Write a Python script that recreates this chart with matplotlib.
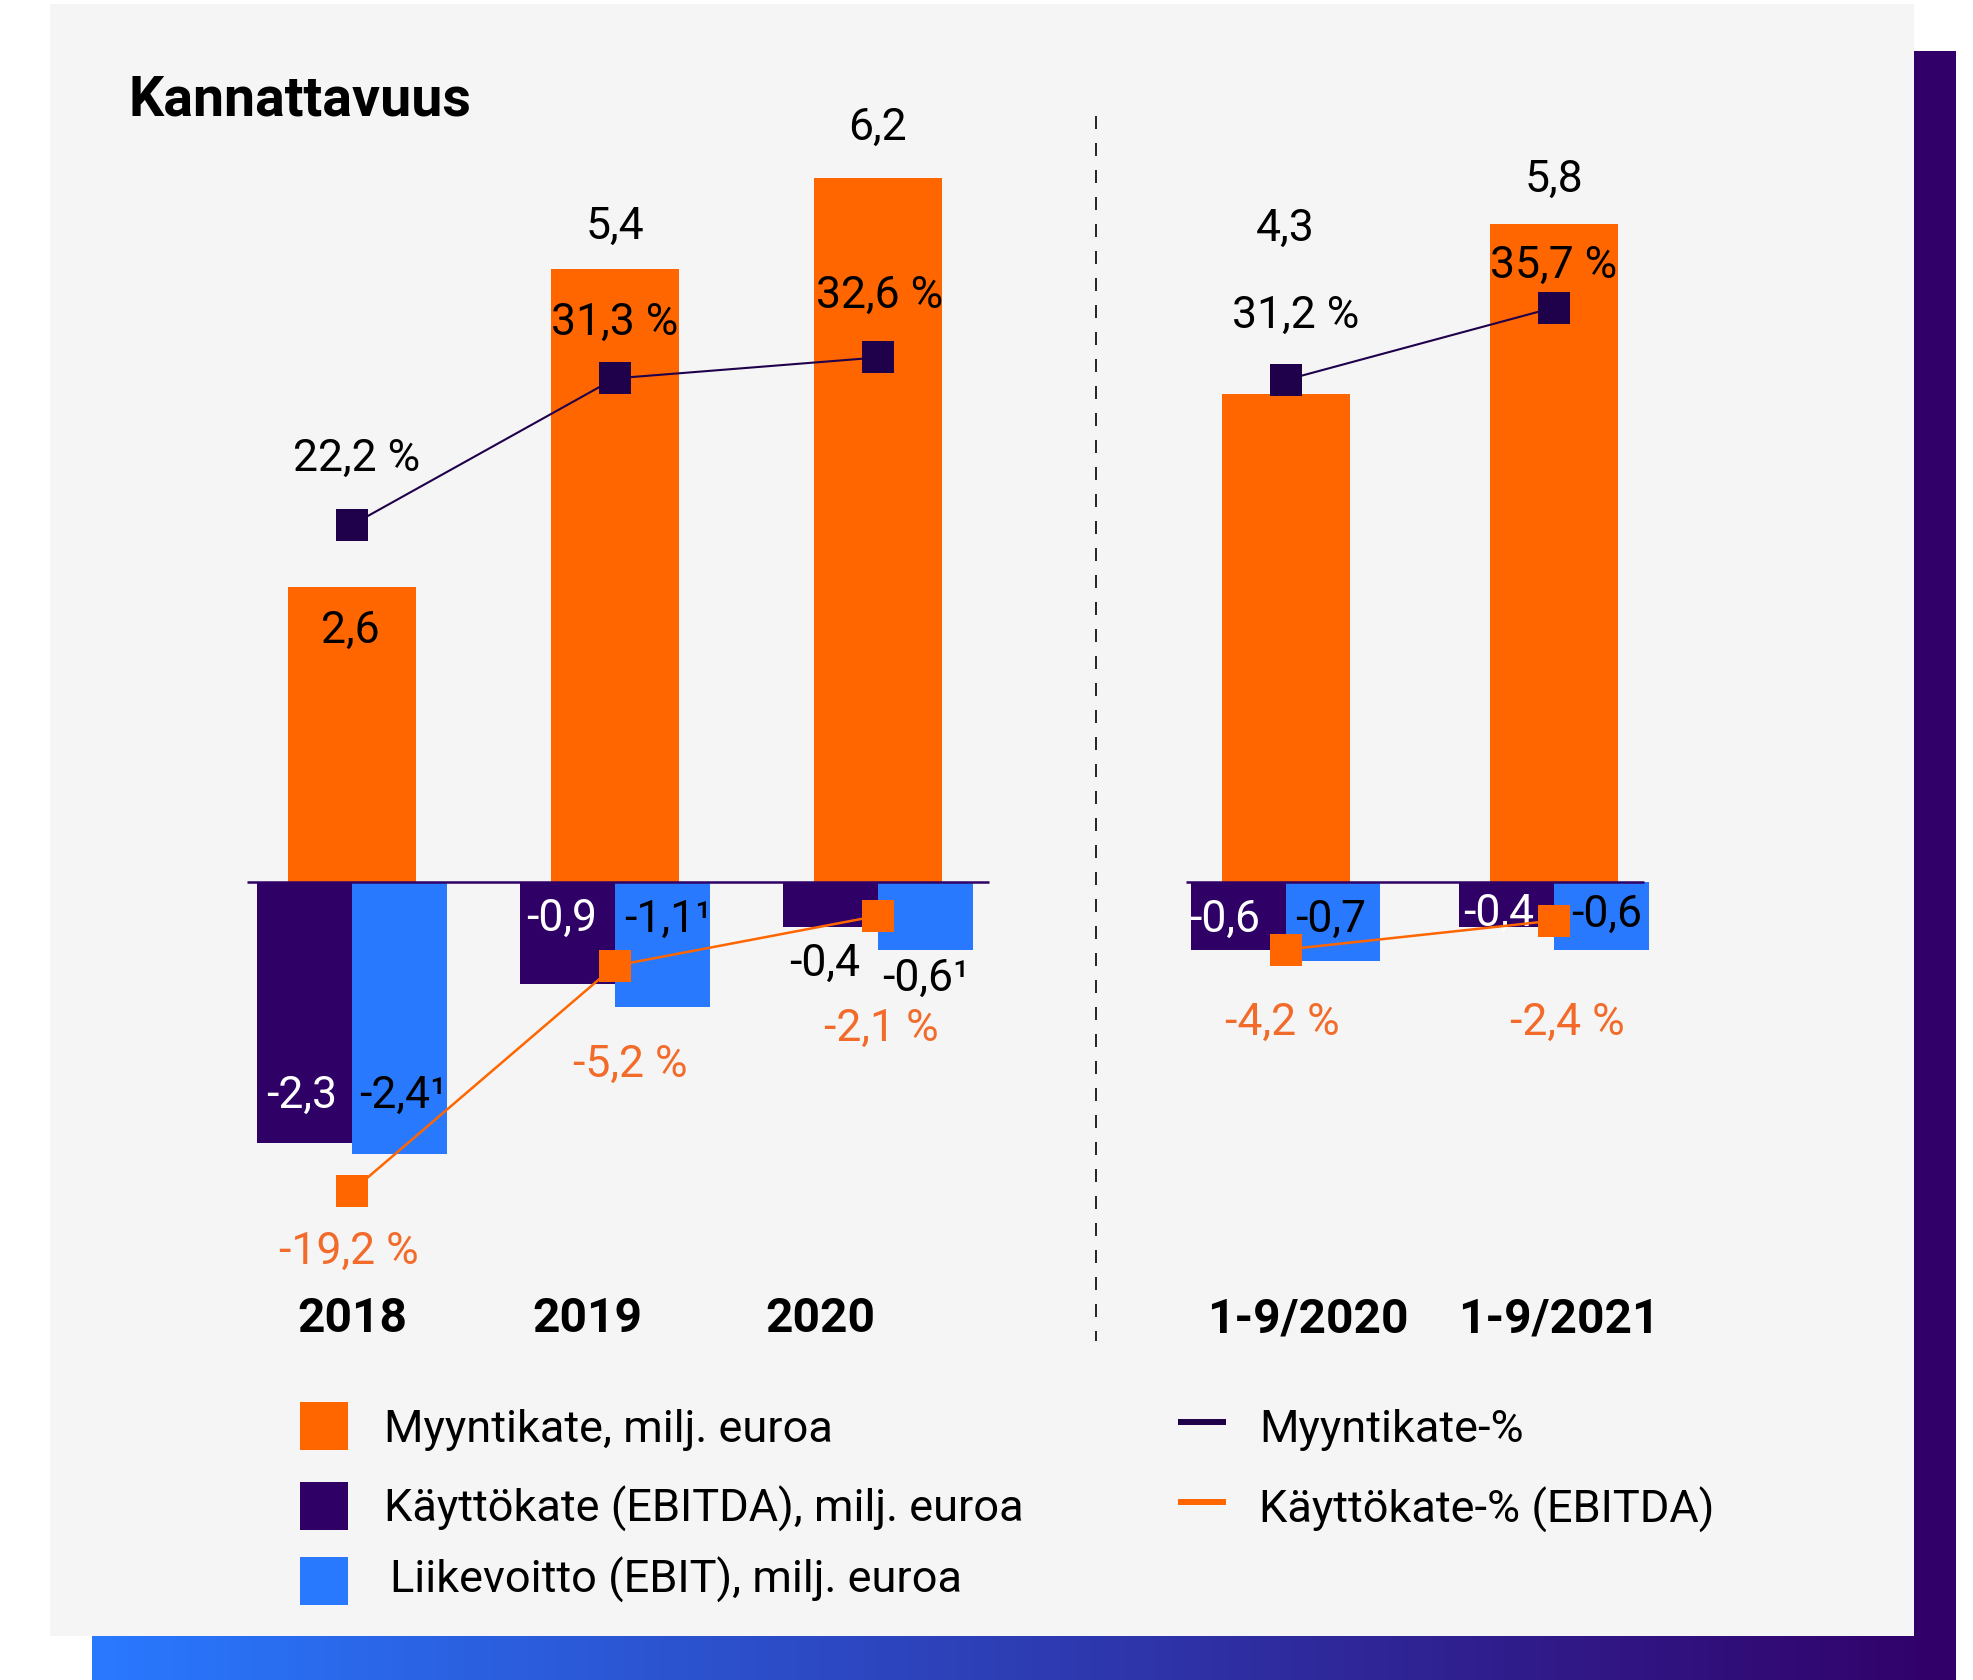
import numpy as np
import matplotlib.pyplot as plt
import matplotlib.transforms as mtransforms
from matplotlib.patches import Rectangle

plt.rcParams['font.family'] = ['Roboto', 'DejaVu Sans']

# data, milj. euroa and %
periods = ['2018', '2019', '2020', '1-9/2020', '1-9/2021']
myyntikate = [2.6, 5.4, 6.2, 4.3, 5.8]
kayttokate = [-2.3, -0.9, -0.4, -0.6, -0.4]
liikevoitto = [-2.4, -1.1, -0.6, -0.7, -0.6]
myyntikate_pct = [22.2, 31.3, 32.6, 31.2, 35.7]
kayttokate_pct = [-19.2, -5.2, -2.1, -4.2, -2.4]
footnote = ['\u00b9', '\u00b9', '\u00b9', '', '']

bar_names = ['Myyntikate, milj. euroa', 'Käyttökate (EBITDA), milj. euroa',
             'Liikevoitto (EBIT), milj. euroa']
line_names = ['Myyntikate-%', 'Käyttökate-% (EBITDA)']

ORANGE = '#ff6600'
PURPLE = '#2f0066'
BLUE = '#2979ff'
DARK = '#1f004b'
PCT_ORANGE = '#f26b2a'
GREY = '#f5f5f5'

xpos = np.array([0, 1, 2, 3.55, 4.57])
groups = [slice(0, 3), slice(3, 5)]

# label offsets in pixels (centre of text relative to anchor)
mk_off = [(-2, -40), (0, 46), (-1, 54), (0, 169), (0, 48)]
mkp_off = [(5, 70), (0, 60), (2, 66), (10, 68), (0, 46)]
kkp_off = [(-3, -57), (15, -95), (3, -109), (-3, -69), (13, -98)]
kk_off = [(-3, -210), (-6, -33), (-6, -78), (-14, -34), (-8, -28)]
kk_col = ['white', 'white', 'black', 'white', 'white']
lv_off = [(4, -210), (6, -34), (0, -93), (-2, -34), (5, -29)]
cat_dx = [0, -0.106, -0.22, 0.085, 0.02]


def fi(v, pct=False):
    s = f'{v:.1f}'.replace('.', ',')
    return s + ' %' if pct else s


W, H = 1973, 1680
fig = plt.figure(figsize=(W / 100, H / 100), dpi=100)
fig.patch.set_facecolor('white')

# background frame, pixel coordinates
bg = fig.add_axes([0, 0, 1, 1], zorder=0)
grad = np.linspace(0, 1, 256)
c0 = np.array([41, 121, 255]) / 255
c1 = np.array([50, 0, 104]) / 255
img = (c0[None, :] * (1 - grad[:, None]) + c1[None, :] * grad[:, None])[None, :, :]
bg.imshow(img, extent=[92, 1956, 1680, 1636], aspect='auto', zorder=1)
bg.add_patch(Rectangle((1914, 51), 42, 1629, color='#310069', lw=0, zorder=1))
bg.add_patch(Rectangle((50, 4), 1864, 1632, color=GREY, lw=0, zorder=2))
bg.set_xlim(0, W)
bg.set_ylim(H, 0)
bg.axis('off')

bg.text(128, 115, 'Kannattavuus', fontsize=40, fontweight='bold', va='baseline', zorder=3)
bg.plot([1096, 1096], [116, 1341], color='black', lw=1.2, dashes=(7.8, 8.4), zorder=3)

# legend
leg_y = [(1402, 1442, 384), (1482, 1522, 384), (1557, 1593, 390)]
for (top, base, tx), name, col in zip(leg_y, bar_names, [ORANGE, PURPLE, BLUE]):
    bg.add_patch(Rectangle((300, top), 48, 48, color=col, lw=0, zorder=3))
    bg.text(tx, base, name, fontsize=32.5, va='baseline', zorder=3)
for (ly, base), name, col in zip([(1422, 1442), (1502, 1523)], line_names, [DARK, ORANGE]):
    bg.plot([1178, 1226], [ly, ly], color=col, lw=4.3, solid_capstyle='butt', zorder=3)
    bg.text(1259, base, name, fontsize=32.5, va='baseline', zorder=3)

# chart
ax = fig.add_axes([0, 0, 1, 1], zorder=1)
ax.set_xlim(-352 / 263, (W - 352) / 263)
ylo, yhi = (882 - H) / 113.5, 882 / 113.5
ax.set_ylim(ylo, yhi)
ax.axis('off')

ax.bar(xpos, myyntikate, width=0.487, color=ORANGE, zorder=2)
ax.bar(xpos - 0.18, kayttokate, width=0.36, color=PURPLE, zorder=2)
ax.bar(xpos + 0.18, liikevoitto, width=0.36, color=BLUE, zorder=2)
ax.hlines(0, -0.399, 2.422, color=PURPLE, lw=1.8, zorder=3)
ax.hlines(0, 3.171, 4.913, color=PURPLE, lw=1.8, zorder=3)


def label(a, text, xy, off, color='black', size=32):
    a.annotate(text, xy=xy, xytext=(off[0], off[1] - 16), textcoords='offset pixels',
               ha='center', va='baseline', fontsize=size, color=color, zorder=6)


for i in range(5):
    label(ax, fi(myyntikate[i]), (xpos[i], myyntikate[i]), mk_off[i])
    label(ax, fi(kayttokate[i]), (xpos[i] - 0.18, 0), kk_off[i], kk_col[i])
    label(ax, fi(liikevoitto[i]) + footnote[i], (xpos[i] + 0.18, 0), lv_off[i])

cat_tr = mtransforms.blended_transform_factory(ax.transData, bg.transData)
for i, p in enumerate(periods):
    ax.text(xpos[i] + cat_dx[i], 1332, p, transform=cat_tr, fontsize=34.5,
            fontweight='bold', ha='center', va='baseline')

# percentage lines on their own scale
pct_per_unit = 7.054
ax2 = ax.twinx()
ax2.set_ylim(ylo * pct_per_unit, yhi * pct_per_unit)
ax2.axis('off')
for g in groups:
    ax2.plot(xpos[g], myyntikate_pct[g], color=DARK, lw=1.5, marker='s', ms=23,
             mew=0, zorder=4)
    ax2.plot(xpos[g], kayttokate_pct[g], color=ORANGE, lw=1.8, marker='s', ms=23,
             mew=0, zorder=4)
for i in range(5):
    label(ax2, fi(myyntikate_pct[i], True), (xpos[i], myyntikate_pct[i]), mkp_off[i])
    label(ax2, fi(kayttokate_pct[i], True), (xpos[i], kayttokate_pct[i]), kkp_off[i], PCT_ORANGE)

fig.savefig('out.png', dpi=100)
